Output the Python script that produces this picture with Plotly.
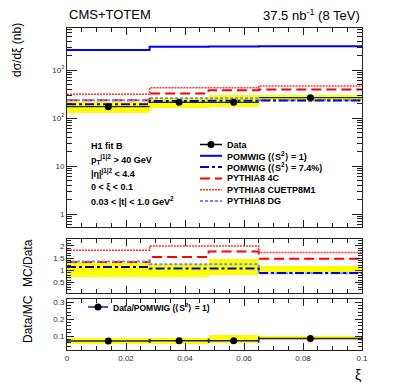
import plotly.graph_objects as go

# bin edges in xi
edges = [0.0, 0.028, 0.048, 0.065, 0.1]

# top panel: d sigma / d xi (nb)
data = [172, 212, 212, 265]
band_lo = [130, 158, 167, 238]
band_hi = [220, 257, 303, 300]
pomwig1 = [2610, 3060, 3080, 3130]
pomwig74 = [193, 226, 228, 233]
py8_4c = [235, 326, 380, 392]
py8_cuetp = [311, 426, 426, 465]
py8_dg = [235, 258, 258, 234]

# middle panel: MC/Data
r_band_lo = [0.73, 0.74, 0.79, 0.92]
r_band_hi = [1.31, 1.24, 1.47, 1.17]
r_pomwig74 = [1.13, 1.07, 1.07, 0.89]
r_4c = [1.34, 1.54, 1.77, 1.47]
r_cuetp = [1.82, 1.99, 1.99, 1.73]
r_dg = [1.36, 1.25, 1.25, 0.88]

# bottom panel: Data/POMWIG (S2 = 1)
dm = [0.071, 0.072, 0.072, 0.086]
dm_lo = [0.055, 0.055, 0.060, 0.074]
dm_hi = [0.091, 0.089, 0.105, 0.101]

centres = [(a + b) / 2 for a, b in zip(edges[:-1], edges[1:])]
widths = [b - a for a, b in zip(edges[:-1], edges[1:])]
halfw = [w / 2 for w in widths]

# the page body has an 8px margin, so the figure is shrunk by that much
OFF = 8
W, H = 407 - OFF, 391 - OFF
ML, MR, MT, MB = 67 - OFF, 45, 28 - OFF, 41
PW, PH = 295, 322  # plot area size


# helpers: reference-picture pixel -> paper coordinates
def px(x):
    return (x - 67) / PW


def py(y):
    return (350 - y) / PH


FONT = "Liberation Sans, Arial, Helvetica, sans-serif"

styles = {
    "pomwig1": dict(color="#0000ff", width=2, dash="solid"),
    "pomwig74": dict(color="#0000dd", width=2, dash="dashdot"),
    "4c": dict(color="#ff0000", width=2, dash="10px,5px"),
    "cuetp": dict(color="#ff3030", width=1.5, dash="2px,1px"),
    "dg": dict(color="#6f8fe8", width=2, dash="3px,2px"),
}

fig = go.Figure()


def band(lo, hi, xa, ya):
    fig.add_trace(go.Bar(
        x=centres, y=[h - l for l, h in zip(lo, hi)], base=lo, width=widths,
        marker=dict(color="#ffff00", line=dict(width=0)),
        xaxis=xa, yaxis=ya, showlegend=False, hoverinfo="skip"))


def step(vals, style, xa, ya):
    fig.add_trace(go.Scatter(
        x=edges, y=list(vals) + [vals[-1]], mode="lines", line_shape="hv",
        line=styles[style], xaxis=xa, yaxis=ya, showlegend=False))


# top panel
band(band_lo, band_hi, "x", "y")
step(py8_cuetp, "cuetp", "x", "y")
step(py8_4c, "4c", "x", "y")
step(py8_dg, "dg", "x", "y")
step(pomwig74, "pomwig74", "x", "y")
step(pomwig1, "pomwig1", "x", "y")
fig.add_trace(go.Scatter(
    x=centres, y=data, mode="markers",
    marker=dict(color="black", size=7),
    error_x=dict(type="data", array=halfw, width=0, thickness=1.2, color="#222"),
    xaxis="x", yaxis="y", showlegend=False))

# middle panel
band(r_band_lo, r_band_hi, "x2", "y2")
step(r_cuetp, "cuetp", "x2", "y2")
step(r_4c, "4c", "x2", "y2")
step(r_dg, "dg", "x2", "y2")
step(r_pomwig74, "pomwig74", "x2", "y2")

# bottom panel
band(dm_lo, dm_hi, "x3", "y3")
fig.add_trace(go.Scatter(
    x=centres, y=dm, mode="markers",
    marker=dict(color="black", size=7),
    error_x=dict(type="data", array=halfw, width=2, thickness=1.5, color="#1a1a80"),
    xaxis="x3", yaxis="y3", showlegend=False))

axis_common = dict(
    showline=True, linecolor="#222", linewidth=1, mirror="allticks",
    ticks="inside", ticklen=7, tickcolor="#222", showgrid=False, zeroline=False,
    automargin=False,
    tickfont=dict(family=FONT, size=8, color="#333"),
)

xr = [0, 0.1]
fig.update_layout(
    width=W, height=H,
    margin=dict(l=ML, r=MR, t=MT, b=MB, autoexpand=False),
    paper_bgcolor="white", plot_bgcolor="white",
    barmode="overlay", bargap=0,
    font=dict(family=FONT, color="black"),
    xaxis=dict(axis_common, domain=[0, 1], anchor="y", range=xr, dtick=0.02,
               showticklabels=False,
               minor=dict(ticks="inside", ticklen=4, dtick=0.005, tickcolor="#222")),
    xaxis2=dict(axis_common, domain=[0, 1], anchor="y2", range=xr, dtick=0.02,
                showticklabels=False, matches="x",
                minor=dict(ticks="inside", ticklen=4, dtick=0.005, tickcolor="#222")),
    xaxis3=dict(axis_common, domain=[0, 1], anchor="y3", range=xr,
                tickvals=[0, 0.02, 0.04, 0.06, 0.08, 0.1],
                ticktext=["0", "0.02", "0.04", "0.06", "0.08", "0.1"],
                matches="x",
                minor=dict(ticks="inside", ticklen=4, dtick=0.005, tickcolor="#222")),
    yaxis=dict(axis_common, domain=[py(227), 1], anchor="x", type="log",
               range=[-0.27, 3.875], ticklen=10,
               tickvals=[1, 10, 100, 1000],
               ticktext=["1", "10", "10<sup>2</sup>", "10<sup>3</sup>"],
               minor=dict(ticks="inside", ticklen=5, tickcolor="#222",
                          tickvals=[m * 10 ** d for d in range(-1, 4) for m in range(2, 10)])),
    yaxis2=dict(axis_common, domain=[py(293), py(239)], anchor="x2",
                range=[0.07, 2.28], tickvals=[0.5, 1, 1.5, 2],
                ticktext=["0.5", "1", "1.5", "2"],
                minor=dict(ticks="inside", ticklen=4, dtick=0.1, tickcolor="#222")),
    yaxis3=dict(axis_common, domain=[0, py(299)], anchor="x3",
                range=[0.018, 0.318], tickvals=[0.1, 0.2, 0.3],
                ticktext=["0.1", "0.2", "0.3"],
                minor=dict(ticks="inside", ticklen=4, dtick=0.02, tickcolor="#222")),
)

ann = []
shapes = []


def text(x, y, s, size=9, bold=False, xanchor="left", angle=0, yanchor="middle"):
    ann.append(dict(
        x=x, y=y, xref="paper", yref="paper", text=("<b>%s</b>" % s) if bold else s,
        showarrow=False, xanchor=xanchor, yanchor=yanchor, textangle=angle,
        font=dict(family=FONT, size=size, color="black")))


# header
text(px(67), py(15), "CMS+TOTEM", size=13)
text(px(362), py(15), "37.5 nb<sup>-1</sup> (8 TeV)", size=13, xanchor="right")

# axis titles
text(px(17), py(50), "dσ/dξ (nb)", size=12, xanchor="center", angle=-90)
text(px(28), py(263), "MC/Data", size=12, xanchor="center", angle=-90)
text(px(28), py(319), "Data/MC", size=12, xanchor="center", angle=-90)
text(px(358), py(375), "ξ", size=14, xanchor="center")

# selection text
sel = ["H1 fit B",
       "p<sub>T</sub><sup>j1|2</sup> > 40 GeV",
       "|η|<sup>j1|2</sup> < 4.4",
       "0 < ξ < 0.1",
       "0.03 < |t| < 1.0 GeV<sup>2</sup>"]
for i, s in enumerate(sel):
    text(px(89), py(146 + i * 13.7), s, bold=True)

# legend (top panel)
leg = [("Data", None),
       ("POMWIG (⟨S<sup>2</sup>⟩ = 1)", "pomwig1"),
       ("POMWIG (⟨S<sup>2</sup>⟩ = 7.4%)", "pomwig74"),
       ("PYTHIA8 4C", "4c"),
       ("PYTHIA8 CUETP8M1", "cuetp"),
       ("PYTHIA8 DG", "dg")]
for i, (lab, st) in enumerate(leg):
    yy = py(144.5 + i * 11.3)
    text(px(225), yy, lab, bold=True)
    if st is None:
        ln = dict(color="black", width=1.5)
    else:
        ln = dict(styles[st])
    shapes.append(dict(type="line", xref="paper", yref="paper",
                       x0=px(200), x1=px(222), y0=yy, y1=yy, line=ln))
shapes.append(dict(type="circle", xref="paper", yref="paper",
                   x0=px(207.5), x1=px(214.5), y0=py(144.5) - 3.5 / PH,
                   y1=py(144.5) + 3.5 / PH, fillcolor="black", line=dict(width=0)))

# legend (bottom panel)
yy = py(307)
text(px(111), yy, "Data/POMWIG (⟨S<sup>2</sup>⟩ = 1)", size=8.5, bold=True)
shapes.append(dict(type="line", xref="paper", yref="paper",
                   x0=px(88), x1=px(108), y0=yy, y1=yy,
                   line=dict(color="#1a1a80", width=1.5)))
shapes.append(dict(type="circle", xref="paper", yref="paper",
                   x0=px(94.5), x1=px(101.5), y0=yy - 3.5 / PH, y1=yy + 3.5 / PH,
                   fillcolor="black", line=dict(width=0)))

fig.update_layout(annotations=ann, shapes=shapes)

fig.write_html("out.html")
